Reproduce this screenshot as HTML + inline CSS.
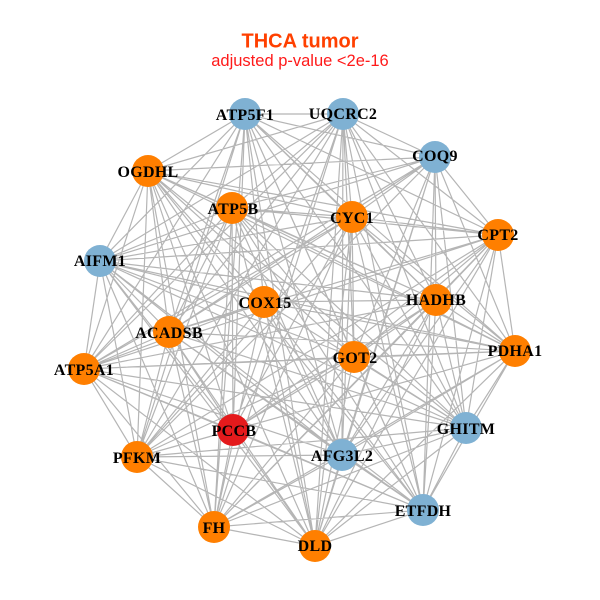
<!DOCTYPE html>
<html><head><meta charset="utf-8"><style>
html,body{margin:0;padding:0;background:#fff;width:600px;height:600px;overflow:hidden}
svg{display:block}
.n{font:bold 16px "Liberation Serif",serif;fill:#000;text-anchor:middle;letter-spacing:.3px}
</style></head><body>
<svg width="600" height="600" viewBox="0 0 600 600" xmlns="http://www.w3.org/2000/svg">
<rect width="600" height="600" fill="#fff"/>
<text x="300" y="47.5" text-anchor="middle" style="font:bold 20px 'Liberation Sans',sans-serif" fill="#ff4000">THCA tumor</text>
<text x="300" y="66" text-anchor="middle" style="font:16.5px 'Liberation Sans',sans-serif" fill="#ff1a1a">adjusted p-value &lt;2e-16</text>
<path fill="none" stroke="#b5b5b5" stroke-width="1.2" d="
M245 114L343 114M245 114L148 171M245 114L435 157M245 114L352 217M245 114L498 235M245 114L100 261M245 114L436 300M245 114L169 332M245 114L354 357M245 114L233 430M245 114L466 428M245 114L342 455M245 114L423 510M245 114L315 546M245 114L214 527M245 114L84 369M245 114L515 351M245 114L137 457M245 114L264 302
M343 114L435 157M343 114L148 171M343 114L352 217M343 114L498 235M343 114L100 261M343 114L232 208M343 114L436 300M343 114L169 332M343 114L354 357M343 114L515 351M343 114L233 430M343 114L466 428M343 114L137 457M343 114L342 455M343 114L423 510M343 114L315 546M343 114L214 527M343 114L84 369
M435 157L148 171M435 157L232 208M435 157L352 217M435 157L498 235M435 157L100 261M435 157L436 300M435 157L169 332M435 157L354 357M435 157L515 351M435 157L342 455M435 157L423 510M435 157L315 546M435 157L466 428M435 157L84 369M435 157L137 457
M148 171L232 208M148 171L352 217M148 171L498 235M148 171L100 261M148 171L169 332M148 171L354 357M148 171L233 430M148 171L466 428M148 171L137 457M148 171L342 455M148 171L436 300M148 171L264 302M148 171L214 527M148 171L315 546M148 171L84 369M148 171L515 351M148 171L423 510
M232 208L352 217M232 208L498 235M232 208L100 261M232 208L436 300M232 208L169 332M232 208L84 369M232 208L354 357M232 208L233 430M232 208L137 457M232 208L342 455M232 208L214 527M232 208L315 546M232 208L423 510M232 208L466 428M232 208L515 351
M352 217L498 235M352 217L100 261M352 217L436 300M352 217L169 332M352 217L84 369M352 217L354 357M352 217L233 430M352 217L137 457M352 217L342 455M352 217L214 527M352 217L315 546M352 217L515 351M352 217L466 428M352 217L423 510
M498 235L100 261M498 235L436 300M498 235L169 332M498 235L84 369M498 235L354 357M498 235L515 351M498 235L233 430M498 235L466 428M498 235L423 510M498 235L342 455M498 235L137 457M498 235L214 527M498 235L315 546
M100 261L264 302M100 261L436 300M100 261L169 332M100 261L84 369M100 261L354 357M100 261L233 430M100 261L137 457M100 261L214 527M100 261L315 546M100 261L515 351M100 261L466 428M100 261L342 455M100 261L423 510
M264 302L169 332M264 302L84 369M264 302L515 351M264 302L466 428M264 302L137 457M264 302L423 510M264 302L214 527M264 302L315 546M264 302L436 300M264 302L342 455
M436 300L84 369M436 300L354 357M436 300L515 351M436 300L233 430M436 300L466 428M436 300L342 455M436 300L423 510M436 300L214 527M436 300L315 546
M169 332L84 369M169 332L515 351M169 332L233 430M169 332L137 457M169 332L214 527M169 332L315 546M169 332L342 455M169 332L466 428M169 332L423 510
M84 369L354 357M84 369L515 351M84 369L233 430M84 369L137 457M84 369L315 546M84 369L342 455M84 369L466 428M84 369L423 510M84 369L214 527
M354 357L515 351M354 357L233 430M354 357L466 428M354 357L137 457M354 357L423 510M354 357L214 527M354 357L315 546
M515 351L466 428M515 351L423 510M515 351L342 455M515 351L137 457M515 351L315 546M515 351L214 527
M233 430L137 457M233 430L423 510M233 430L214 527M233 430L315 546
M466 428L137 457M466 428L342 455M466 428L423 510M466 428L315 546M466 428L214 527
M137 457L342 455M137 457L214 527M137 457L315 546M137 457L423 510
M342 455L423 510M342 455L315 546M342 455L214 527
M423 510L214 527M423 510L315 546
M214 527L315 546"/>
<g fill="#ff7f00">
<circle cx="148" cy="171" r="16"/><circle cx="232" cy="208" r="16"/><circle cx="352" cy="217" r="16"/><circle cx="498" cy="235" r="16"/><circle cx="264" cy="302" r="16"/><circle cx="436" cy="300" r="16"/><circle cx="169" cy="332" r="16"/><circle cx="84" cy="369" r="16"/><circle cx="354" cy="357" r="16"/><circle cx="515" cy="351" r="16"/><circle cx="137" cy="457" r="16"/><circle cx="214" cy="527" r="16"/><circle cx="315" cy="546" r="16"/>
</g>
<g fill="#7fb1d3">
<circle cx="245" cy="114" r="16"/><circle cx="343" cy="114" r="16"/><circle cx="435" cy="157" r="16"/><circle cx="100" cy="261" r="16"/><circle cx="466" cy="428" r="16"/><circle cx="342" cy="455" r="16"/><circle cx="423" cy="510" r="16"/>
</g>
<circle cx="233" cy="430" r="16" fill="#e41a1c"/>
<g>
<text class="n" x="245" y="120">ATP5F1</text>
<text class="n" x="343" y="119">UQCRC2</text>
<text class="n" x="435" y="161">COQ9</text>
<text class="n" x="148" y="177">OGDHL</text>
<text class="n" x="233" y="214">ATP5B</text>
<text class="n" x="352" y="223">CYC1</text>
<text class="n" x="498" y="240">CPT2</text>
<text class="n" x="100" y="266">AIFM1</text>
<text class="n" x="265" y="308">COX15</text>
<text class="n" x="436" y="305">HADHB</text>
<text class="n" x="169" y="338">ACADSB</text>
<text class="n" x="84" y="375">ATP5A1</text>
<text class="n" x="355" y="363">GOT2</text>
<text class="n" x="515" y="356">PDHA1</text>
<text class="n" x="234" y="436">PCCB</text>
<text class="n" x="466" y="434">GHITM</text>
<text class="n" x="137" y="463">PFKM</text>
<text class="n" x="342" y="461">AFG3L2</text>
<text class="n" x="423" y="516">ETFDH</text>
<text class="n" x="214" y="533">FH</text>
<text class="n" x="315" y="551">DLD</text>
</g>
</svg>
</body></html>
